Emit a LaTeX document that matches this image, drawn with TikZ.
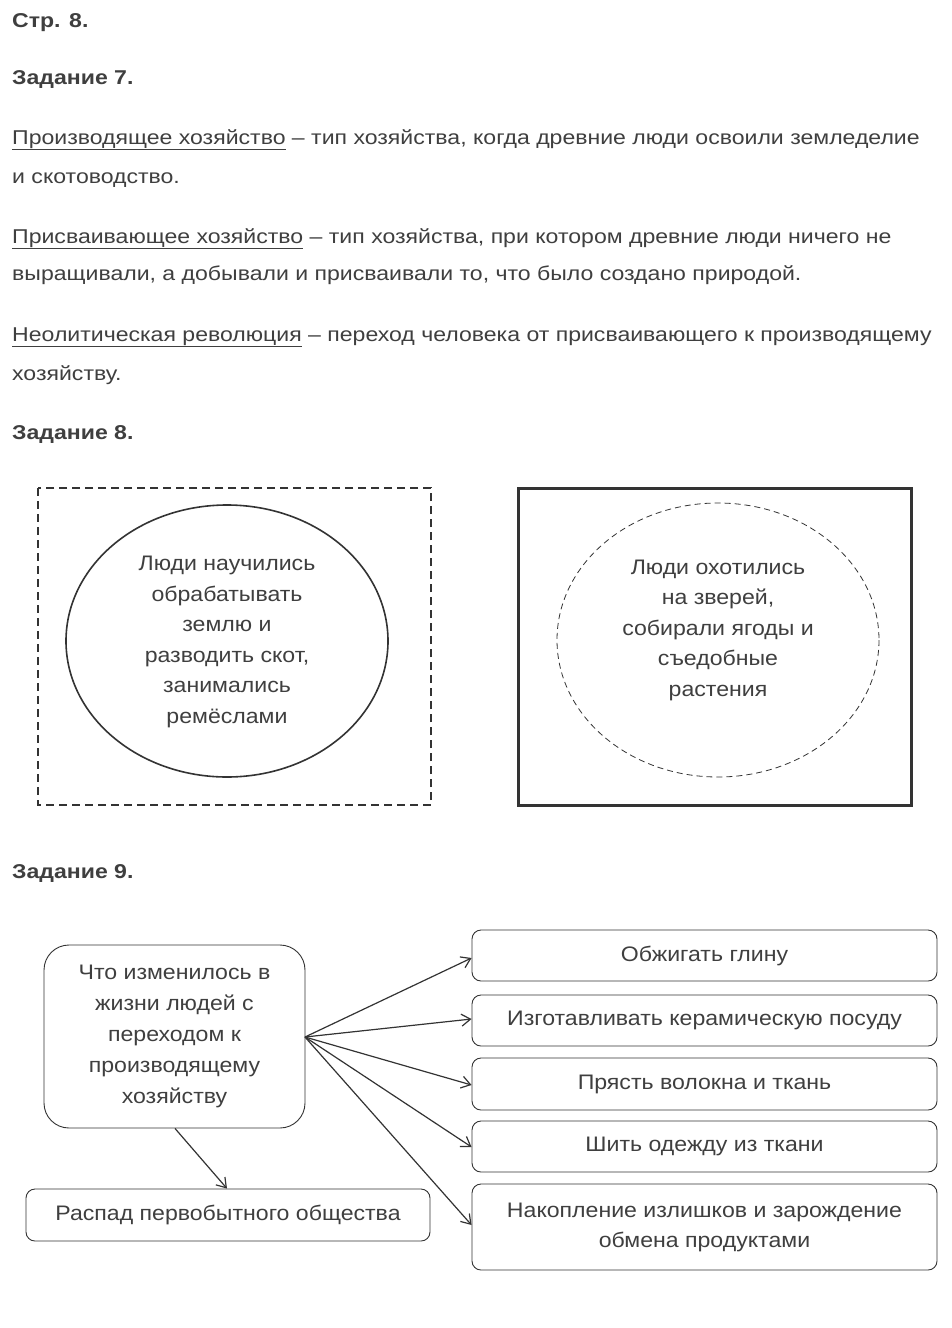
\documentclass[tikz,border=0pt]{standalone}
\usepackage{fontspec}
\setmainfont{Liberation Sans}[FakeStretch=1.153]
\newfontfamily\boxfont{Liberation Sans}[FakeStretch=1.10]
\usetikzlibrary{arrows.meta,positioning}
\definecolor{inktext}{HTML}{3F3F3F}
\definecolor{inkline}{HTML}{333333}
\tikzset{
  para/.style={anchor=base west, inner sep=0pt, text=inktext,
    font=\fontsize{20}{24}\selectfont},
  heading/.style={para, font=\fontsize{20}{24}\selectfont\bfseries},
  bubble/.style={align=center, text=inktext, inner sep=0pt,
    font=\boxfont\fontsize{21}{30.5}\selectfont},
  itembox/.style={draw=inkline, line width=0.9pt, rounded corners=9pt,
    minimum width=465pt, text=inktext, align=center,
    font=\boxfont\fontsize{21}{30}\selectfont},
  link/.style={draw=inkline, line width=1.2pt,
    -{Straight Barb[length=9pt,width=12pt]}}
}
\begin{document}
\begin{tikzpicture}[x=1pt, y=-1pt]
  \useasboundingbox[fill=white] (0,0) rectangle (951,1328);

  % Task 7
  \node[heading] (page) at (12,27) {Стр. 8.};
  \node[heading] (task7) at (12,84) {Задание 7.};
  \node[para] (def1a) at (12,144) {\underline{Производящее хозяйство} – тип хозяйства, когда древние люди освоили земледелие};
  \node[para] (def1b) at (12,183) {и скотоводство.};
  \node[para] (def2a) at (12,243) {\underline{Присваивающее хозяйство} – тип хозяйства, при котором древние люди ничего не};
  \node[para] (def2b) at (12,280) {выращивали, а добывали и присваивали то, что было создано природой.};
  \node[para] (def3a) at (12,341) {\underline{Неолитическая революция} – переход человека от присваивающего к производящему};
  \node[para] (def3b) at (12,380) {хозяйству.};

  % Task 8
  \node[heading] (task8) at (12,439) {Задание 8.};
  \draw[inkline, line width=1.2pt, dash pattern=on 8pt off 5pt] (38,488) rectangle (431,805);
  \draw[inkline, line width=1.6pt] (227,641) ellipse [x radius=161, y radius=136];
  \node[bubble] (farmers) at (227,642) {Люди научились\\обрабатывать\\землю и\\разводить скот,\\занимались\\ремёслами};
  \draw[inkline, line width=3pt] (518,488) rectangle (911,805);
  \draw[inkline, line width=0.8pt, dash pattern=on 6pt off 4pt] (718,640) ellipse [x radius=161, y radius=137];
  \node[bubble] (hunters) at (718,630) {Люди охотились\\на зверей,\\собирали ягоды и\\съедобные\\растения};

  % Task 9
  \node[heading] (task9) at (12,878) {Задание 9.};
  \node[itembox, rounded corners=25pt, minimum width=261pt, minimum height=183pt,
    font=\boxfont\fontsize{21}{30.8}\selectfont] (question) at (174.5,1036.5)
    {Что изменилось в\\жизни людей с\\переходом к\\производящему\\хозяйству};
  \node[itembox, minimum width=404pt, minimum height=52pt] (decay) at (228,1215)
    {Распад первобытного общества};
  \node[itembox, minimum height=51pt] (clay) at (704.5,955.5) {Обжигать глину};
  \node[itembox, minimum height=51pt] (pottery) at (704.5,1020.5) {Изготавливать керамическую посуду};
  \node[itembox, minimum height=52pt] (spin) at (704.5,1084) {Прясть волокна и ткань};
  \node[itembox, minimum height=51pt] (sew) at (704.5,1146.5) {Шить одежду из ткани};
  \node[itembox, minimum height=86pt] (surplus) at (704.5,1227)
    {Накопление излишков и зарождение\\обмена продуктами};
  \coordinate (fork) at (305,1037);
  \foreach \target/\ypos in {clay/958, pottery/1019, spin/1085, sew/1147, surplus/1225}
    \draw[link] (fork) -- (\target.west |- 0,\ypos);
  \draw[link] (question.south -| 175,0) -- (decay.north -| 227,0);
\end{tikzpicture}
\end{document}
